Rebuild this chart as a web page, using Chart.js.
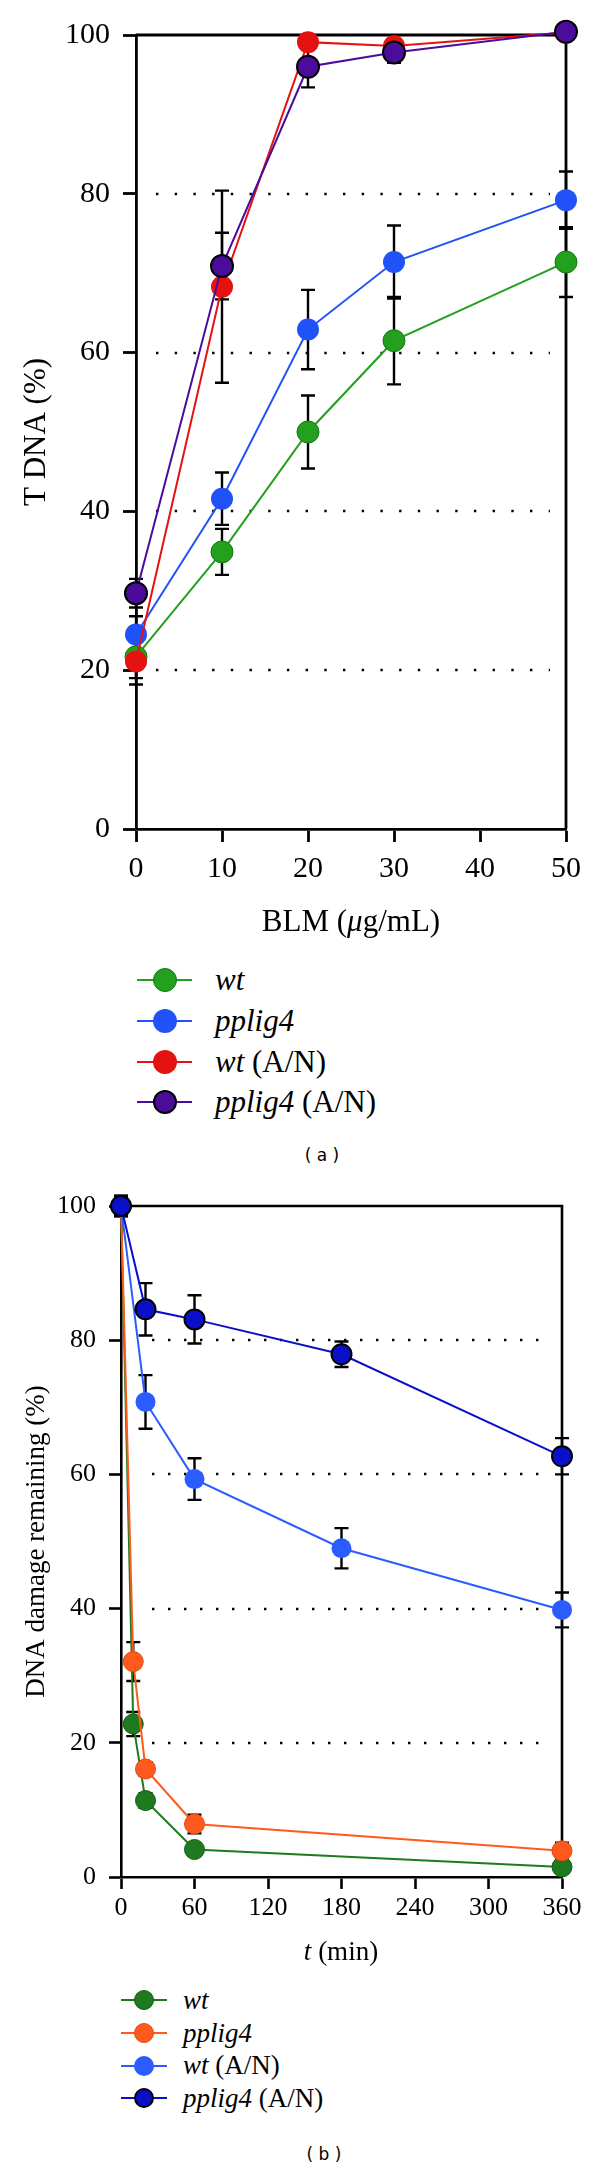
<!DOCTYPE html>
<html>
<head>
<meta charset="utf-8">
<script src="https://cdn.jsdelivr.net/npm/chart.js@4.4.1/dist/chart.umd.min.js"></script>
<style>
  body { margin: 0; width: 600px; height: 2167px; background: #fff; position: relative; overflow: hidden;
         font-family: "Liberation Serif", serif; color: #000; }
  canvas { position: absolute; left: 0; }
  .label { position: absolute; white-space: nowrap; transform: translate(-50%, -50%); }
  .legend { position: absolute; }
  .row { display: flex; align-items: center; white-space: nowrap; }
  .sym { position: relative; height: 2px; flex: none; }
  .dot { position: absolute; top: 50%; left: 50%; border-radius: 50%; transform: translate(-50%, -50%); box-sizing: border-box; }
  .caption { position: absolute; font-family: "DejaVu Sans", sans-serif; font-size: 17px; transform: translate(-50%, -50%); white-space: pre; }
</style>
</head>
<body>
<canvas id="chartA" width="600" height="960" style="top:0"></canvas>
<div class="label" style="left:351px;top:921px;font-size:31px">BLM (<i>μ</i>g/mL)</div>
<div class="legend" id="legendA" style="left:137px;top:960px"></div>
<div class="caption" style="left:322px;top:1155px">( a )</div>

<canvas id="chartB" width="600" height="790" style="top:1150px"></canvas>
<div class="label" style="left:341px;top:1951px;font-size:27px"><i>t</i> (min)</div>
<div class="legend" id="legendB" style="left:121px;top:1984px"></div>
<div class="caption" style="left:324px;top:2154px">( b )</div>

<script>
// (a) tail DNA after BLM treatment
const doseA = [0, 10, 20, 30, 50];
const wtA = [21.7, 34.9, 50.0, 61.5, 71.4];
const wtAErr = [2.7, 2.9, 4.6, 5.5, 4.4];
const ppA = [24.5, 41.6, 62.9, 71.4, 79.2];
const ppAErr = [2.3, 3.3, 5.0, 4.6, 3.6];
const wtAnA = [21.1, 68.3, 99.1, 98.6, 100.3];
const wtAnAErr = [2.9, 12.1, 0.5, 0.5, 0.5];
const ppAnA = [29.7, 70.9, 96.0, 97.8, 100.4];
const ppAnAErr = [1.8, 4.2, 2.6, 1.3, 0.5];
const namesA = ['wt', 'pplig4', 'wt (A/N)', 'pplig4 (A/N)'];
const gridA = [20, 40, 60, 80];

// (b) damage remaining over repair time
const timeB = [0, 10, 20, 60, 360];
const wtB = [100, 22.8, 11.4, 4.1, 1.5];
const wtBErr = [1.5, 1.8, 1.1, 0.5, 0.5];
const ppB = [100, 32.1, 16.1, 7.9, 3.9];
const ppBErr = [1.5, 2.9, 1.0, 1.4, 1.2];
const timeAnB = [0, 20, 60, 180, 360];
const wtAnB = [100, 70.8, 59.3, 49.0, 39.8];
const wtAnBErr = [1.5, 4.0, 3.1, 3.0, 2.6];
const ppAnB = [100, 84.6, 83.1, 77.9, 62.7];
const ppAnBErr = [1.5, 3.9, 3.6, 1.9, 2.7];
const namesB = ['wt', 'pplig4', 'wt (A/N)', 'pplig4 (A/N)'];
const gridB = [20, 40, 60, 80];

const colorsA = ['#22a01e', '#2152f7', '#e51212', '#4b0c9c'];
const edgesA = ['#137813', '#2152f7', '#d01010', '#000000'];
const edgeWA = [1, 0, 0, 2];
const colorsB = ['#1f7a1f', '#ff5a1e', '#2a5cff', '#0a10c8'];
const edgesB = ['#145c14', '#e04a14', '#2a5cff', '#000000'];
const edgeWB = [1, 1, 0, 2];

function pts(xs, ys) {
  return xs.map((x, i) => ({ x: x, y: ys[i] }));
}

// top/right frame and dotted grid lines
const frameGrid = {
  id: 'frameGrid',
  beforeDatasetsDraw(chart, args, o) {
    const ctx = chart.ctx, a = chart.chartArea, y = chart.scales.y;
    ctx.save();
    ctx.strokeStyle = '#000';
    ctx.lineWidth = 2.4;
    ctx.setLineDash([2.4, o.gap - 2.4]);
    o.values.forEach(v => {
      const py = Math.round(y.getPixelForValue(v));
      ctx.beginPath();
      ctx.moveTo(a.left + o.start, py);
      ctx.lineTo(a.right - o.end, py);
      ctx.stroke();
    });
    ctx.setLineDash([]);
    ctx.lineWidth = o.width;
    ctx.beginPath();
    ctx.moveTo(a.left, a.top);
    ctx.lineTo(a.right, a.top);
    ctx.lineTo(a.right, a.bottom);
    ctx.stroke();
    ctx.restore();
  }
};

const errorBars = {
  id: 'errorBars',
  beforeDatasetsDraw(chart) {
    const ctx = chart.ctx, y = chart.scales.y;
    ctx.save();
    ctx.strokeStyle = '#000';
    ctx.lineWidth = 2.4;
    chart.data.datasets.forEach((ds, i) => {
      chart.getDatasetMeta(i).data.forEach((p, j) => {
        const v = ds.data[j].y, e = ds.errors[j];
        const t = y.getPixelForValue(v + e), b = y.getPixelForValue(v - e);
        ctx.beginPath();
        ctx.moveTo(p.x, t); ctx.lineTo(p.x, b);
        ctx.moveTo(p.x - 7, t); ctx.lineTo(p.x + 7, t);
        ctx.moveTo(p.x - 7, b); ctx.lineTo(p.x + 7, b);
        ctx.stroke();
      });
    });
    ctx.restore();
  }
};

function makeSets(series, colors, edges, edgeW, radius) {
  return series.map((s, i) => ({
    data: s.data,
    errors: s.err,
    borderColor: colors[i],
    backgroundColor: colors[i],
    borderWidth: 2,
    pointRadius: radius,
    pointBackgroundColor: colors[i],
    pointBorderColor: edges[i],
    pointBorderWidth: edgeW[i],
    tension: 0,
    clip: false,
    order: series.length - i
  }));
}

function lineChart(id, sets, o) {
  const axisGrid = { drawOnChartArea: false, tickLength: o.tick, tickWidth: o.axisW, tickColor: '#000' };
  const axisBorder = { color: '#000', width: o.axisW };
  const tickFont = { family: 'Liberation Serif', size: o.tickSize };
  return new Chart(document.getElementById(id), {
    type: 'line',
    data: { datasets: sets },
    options: {
      responsive: false,
      animation: false,
      events: [],
      devicePixelRatio: 1,
      layout: { padding: o.padding },
      plugins: {
        legend: { display: false },
        tooltip: { enabled: false },
        frameGrid: o.frame
      },
      scales: {
        x: {
          type: 'linear', min: o.xMin, max: o.xMax,
          ticks: { stepSize: o.xStep, padding: o.xPad, font: tickFont, color: '#000', maxRotation: 0, autoSkip: false },
          grid: axisGrid, border: axisBorder,
          afterFit: s => { s.height = o.xHeight; }
        },
        y: {
          type: 'linear', min: 0, max: 100,
          ticks: { stepSize: 20, padding: o.yPad, font: tickFont, color: '#000' },
          grid: axisGrid, border: axisBorder,
          title: { display: true, text: o.yTitle, color: '#000',
                   font: { family: 'Liberation Serif', size: o.titleSize },
                   padding: { top: o.yTitlePad, bottom: 0 } },
          afterFit: s => { s.width = o.yWidth; }
        }
      }
    },
    plugins: [frameGrid, errorBars]
  });
}

function legend(id, names, colors, edges, edgeW, o) {
  const box = document.getElementById(id);
  names.forEach((n, i) => {
    const row = document.createElement('div');
    row.className = 'row';
    row.style.height = o.rowH + 'px';
    row.style.fontSize = o.font + 'px';
    const sym = document.createElement('div');
    sym.className = 'sym';
    sym.style.width = o.lineW + 'px';
    sym.style.background = colors[i];
    sym.style.marginRight = o.gap + 'px';
    const dot = document.createElement('div');
    dot.className = 'dot';
    dot.style.width = dot.style.height = o.dot + 'px';
    dot.style.background = colors[i];
    dot.style.border = edgeW[i] ? edgeW[i] + 'px solid ' + edges[i] : 'none';
    sym.appendChild(dot);
    const txt = document.createElement('span');
    const k = n.indexOf(' ');
    txt.innerHTML = k < 0 ? '<i>' + n + '</i>' : '<i>' + n.slice(0, k) + '</i>' + n.slice(k);
    row.appendChild(sym);
    row.appendChild(txt);
    box.appendChild(row);
  });
}

const setsA = makeSets([
  { data: pts(doseA, wtA), err: wtAErr },
  { data: pts(doseA, ppA), err: ppAErr },
  { data: pts(doseA, wtAnA), err: wtAnAErr },
  { data: pts(doseA, ppAnA), err: ppAnAErr }
], colorsA, edgesA, edgeWA, 11);

lineChart('chartA', setsA, {
  padding: { top: 35, right: 34, left: 0, bottom: 0 },
  xMin: 0, xMax: 50, xStep: 10, xPad: 9, xHeight: 131,
  yWidth: 136, yPad: 13, tick: 13, axisW: 2.8, tickSize: 30,
  yTitle: 'T DNA (%)', titleSize: 31, yTitlePad: 18,
  frame: { values: gridA, start: 20, end: 16, gap: 18.7, width: 2.8 }
});

const setsB = makeSets([
  { data: pts(timeB, wtB), err: wtBErr },
  { data: pts(timeB, ppB), err: ppBErr },
  { data: pts(timeAnB, wtAnB), err: wtAnBErr },
  { data: pts(timeAnB, ppAnB), err: ppAnBErr }
], colorsB, edgesB, edgeWB, 10);

lineChart('chartB', setsB, {
  padding: { top: 56, right: 38, left: 0, bottom: 0 },
  xMin: 0, xMax: 360, xStep: 60, xPad: 4, xHeight: 63,
  yWidth: 121, yPad: 13, tick: 12, axisW: 2.6, tickSize: 26,
  yTitle: 'DNA damage remaining (%)', titleSize: 27, yTitlePad: 21,
  frame: { values: gridB, start: 31, end: 10, gap: 16, width: 2.6 }
});

legend('legendA', namesA, colorsA, edgesA, edgeWA, { rowH: 40.7, font: 31, lineW: 55, dot: 24, gap: 23 });
legend('legendB', namesB, colorsB, edgesB, edgeWB, { rowH: 32.7, font: 27, lineW: 46, dot: 20, gap: 16 });
</script>
</body>
</html>
